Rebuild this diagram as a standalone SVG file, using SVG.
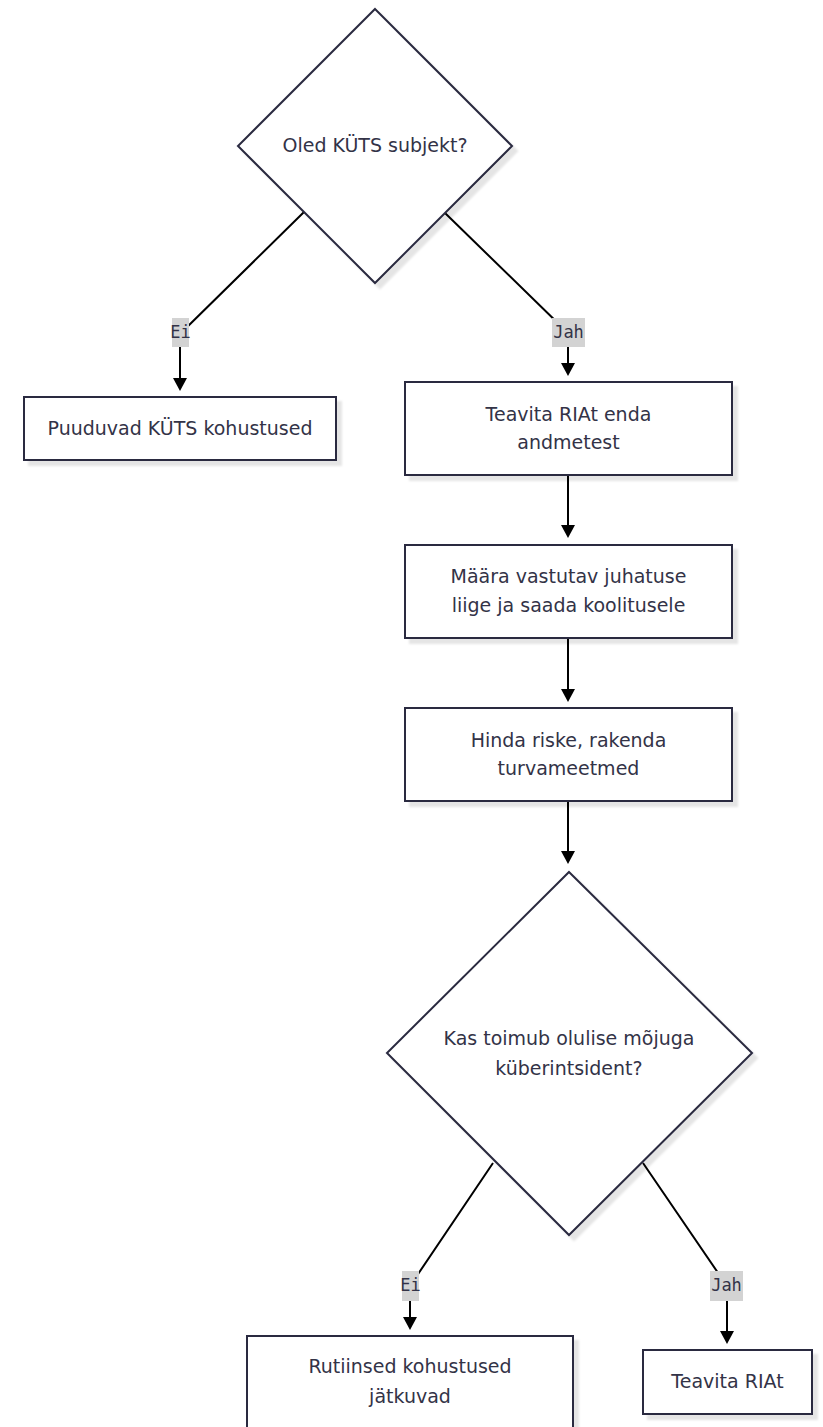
<svg xmlns="http://www.w3.org/2000/svg" width="823" height="1427" viewBox="0 0 823 1427">
<style>
.node{fill:#ffffff;stroke:#2b2b40;stroke-width:2;filter:url(#sh)}
.t{font-family:"DejaVu Sans","Noto Sans",sans-serif;font-size:19px;fill:#333347;text-anchor:middle}
.edge{fill:none;stroke:#000;stroke-width:2;marker-end:url(#arr)}
.lbg{fill:#d3d3d3}
.lt{font-family:"DejaVu Sans Mono","Liberation Mono",monospace;font-size:17px;fill:#333347;text-anchor:middle}
</style>
<defs>
<filter id="sh" x="-10%" y="-10%" width="130%" height="130%">
<feDropShadow dx="5" dy="5" stdDeviation="1.2" flood-color="#000" flood-opacity="0.1"/>
</filter>
<marker id="arr" markerUnits="userSpaceOnUse" viewBox="0 0 13 14" refX="10" refY="7" markerWidth="13" markerHeight="14" orient="auto">
<path d="M0,0 L13,7 L0,14 z" fill="#000"/>
</marker>
</defs>
<rect width="823" height="1427" fill="#ffffff"/>
<g id="connectors">
<polyline class="edge" points="304,212 180,334 180,388"/>
<polyline class="edge" points="445,213 568,333 568,373"/>
<line class="edge" x1="568" y1="475" x2="568" y2="535"/>
<line class="edge" x1="568" y1="638" x2="568" y2="699"/>
<line class="edge" x1="568" y1="801" x2="568" y2="861"/>
<polyline class="edge" points="493,1163 410,1286 410,1327"/>
<polyline class="edge" points="643,1163 727,1286 727,1341"/>
<g id="label-ei1"><rect class="lbg" x="172" y="318" width="17" height="29"/><text class="lt" x="180.5" y="338">Ei</text></g>
<g id="label-jah1"><rect class="lbg" x="552" y="318" width="33" height="29"/><text class="lt" x="568.5" y="338">Jah</text></g>
<g id="label-ei2"><rect class="lbg" x="402" y="1271" width="17" height="30"/><text class="lt" x="410.5" y="1291">Ei</text></g>
<g id="label-jah2"><rect class="lbg" x="710" y="1271" width="33" height="30"/><text class="lt" x="726.5" y="1291">Jah</text></g>
</g>
<g id="q1">
<polygon class="node" points="375,9 512,146 375,283 238,146"/>
<text class="t" x="375" y="152">Oled KÜTS subjekt?</text>
</g>
<g id="n-puuduvad">
<rect class="node" x="24" y="397" width="312" height="63"/>
<text class="t" x="180" y="435">Puuduvad KÜTS kohustused</text>
</g>
<g id="n-teavita1">
<rect class="node" x="405" y="382" width="327" height="93"/>
<text class="t" x="568.5" y="421">Teavita RIAt enda</text>
<text class="t" x="568.5" y="449">andmetest</text>
</g>
<g id="n-maara">
<rect class="node" x="405" y="545" width="327" height="93"/>
<text class="t" x="568.5" y="583">Määra vastutav juhatuse</text>
<text class="t" x="568.5" y="612">liige ja saada koolitusele</text>
</g>
<g id="n-hinda">
<rect class="node" x="405" y="708" width="327" height="93"/>
<text class="t" x="568.5" y="747">Hinda riske, rakenda</text>
<text class="t" x="568.5" y="775">turvameetmed</text>
</g>
<g id="q2">
<polygon class="node" points="569,872 752,1053 569,1235 387,1053"/>
<text class="t" x="569" y="1045">Kas toimub olulise mõjuga</text>
<text class="t" x="569" y="1075">küberintsident?</text>
</g>
<g id="n-rutiinsed">
<rect class="node" x="247" y="1336" width="326" height="93"/>
<text class="t" x="410" y="1373">Rutiinsed kohustused</text>
<text class="t" x="410" y="1403">jätkuvad</text>
</g>
<g id="n-teavita2">
<rect class="node" x="643" y="1350" width="169" height="64"/>
<text class="t" x="727.5" y="1388">Teavita RIAt</text>
</g>
</svg>
